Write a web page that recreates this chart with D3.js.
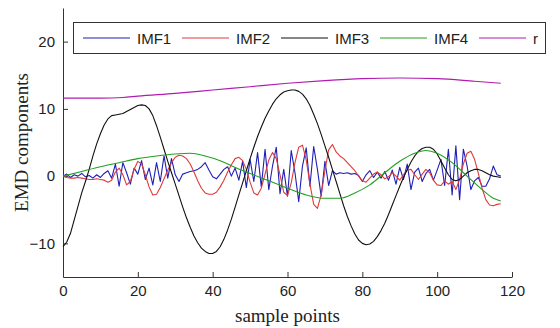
<!DOCTYPE html>
<html>
<head>
<meta charset="utf-8">
<script src="https://cdn.jsdelivr.net/npm/d3@7"></script>
<style>
  html, body { margin: 0; padding: 0; background: #fff; }
  svg { display: block; }
  .axis .tick text { font-family: "Liberation Sans", Arial, sans-serif; font-size: 15px; fill: #222; }
  .axis path, .axis line { stroke: #333; }
</style>
</head>
<body>
<div id="chart"></div>
<script>
// sample index of every point of the decomposition
const samplePoints = d3.range(0, 118);

// IMF1 - highest frequency component
const imf1 = [
  0.0, 0.3, -0.2, 0.2, 0.0, 0.4, -0.1, 0.1, -0.3, 0.2,
  -0.2, 0.4, 0.8, -0.3, 1.8, -1.5, 2.0, 0.5, -1.2, 1.2,
  0.3, 2.3, -0.5, 1.2, -1.3, 2.0, -0.8, 3.0, -0.3, 2.6,
  0.2, -0.8, 0.3, 0.5, 0.7, 0.8, 1.0, 1.4, 2.0, 0.9,
  -0.1, -0.4, 0.3, 1.0, 1.4, 0.0, 1.2, -0.6, 2.2, -1.7,
  2.5, -0.8, 3.5, -1.6, 4.0, -2.0, 1.5, 4.3, -2.6, 1.0,
  -3.0, 3.8, 0.5, -3.8, 1.5, 4.2, -1.5, 4.4, 1.0, -3.0,
  2.2, -1.4, 0.8, 0.3, 0.5, 0.4, 0.5, 0.3, 0.4, 0.1,
  -0.8, 0.2, 0.8, -0.2, 0.6, -0.3, 0.7, -0.6, 0.9, -1.2,
  1.3, -0.5, 1.8, -2.0, 0.6, 1.2, -0.8, 0.4, 1.0, -0.6,
  0.9, 2.5, -1.4, 4.0, -2.8, 4.5, -3.5, 4.0, 1.5, -2.0,
  -0.7, -0.2, -1.5, -1.5, -0.4, 1.5, 0.2, 0.0
];

// IMF2
const imf2 = [
  0.0, -0.2, -0.3, -0.3, -0.2, -0.3, -0.4, -0.5, -0.5, -0.4,
  -0.5, -0.6, -0.9, -0.6, 0.6, 1.2, 0.2, -1.3, -0.8, 1.0,
  2.2, 1.8, 0.2, -1.6, -2.8, -2.7, -1.7, -0.4, 0.9, 2.0,
  2.8, 3.1, 3.0, 2.6, 1.8, 0.6, -0.7, -1.8, -2.5, -2.7,
  -2.7, -2.4, -1.6, -0.6, 0.6, 1.7, 2.6, 2.8, 2.3, 1.0,
  -0.9, -2.5, -2.8, -1.8, 0.3, 2.4, 3.5, 2.6, 0.2, -2.4,
  -2.9, -1.0, 2.0, 4.3, 4.6, 2.4, -1.2, -4.2, -4.8, -2.8,
  0.8, 3.9, 4.7, 3.6, 3.0, 2.6, 2.0, 1.4, 0.8, 0.0,
  -0.7, -0.9, -0.3, 0.3, 0.6, 0.2, -0.4, -0.1, 0.5, 0.0,
  -0.6, 0.2, 0.9, 1.0, 0.2, -0.5, 0.3, 1.0, 0.5, -0.6,
  -1.3, -1.4, -0.7, -1.2, -0.8, -2.0, -0.5, 1.8, 3.4, 3.7,
  2.5, 0.4, -1.8, -3.5, -4.3, -4.4, -4.2, -4.1
];

// IMF3 - large slow oscillation
const imf3 = [
  -10.5, -9.8, -8.5, -6.5, -4.5, -2.5, -0.8, 1.0, 3.0, 4.8,
  6.3, 7.6, 8.5, 9.0, 9.1, 9.2, 9.3, 9.6, 9.9, 10.2,
  10.5, 10.6, 10.5, 10.0, 9.0, 7.5, 5.8, 4.0, 2.2, 0.5,
  -1.2, -2.9, -4.6, -6.2, -7.6, -8.9, -9.9, -10.7, -11.2, -11.5,
  -11.5, -11.2, -10.5, -9.4, -8.0, -6.4, -4.6, -2.8, -1.0, 0.8,
  2.6, 4.3, 5.9, 7.3, 8.6, 9.7, 10.7, 11.5, 12.1, 12.5,
  12.7, 12.8, 12.8, 12.6, 12.2, 11.5, 10.5, 9.2, 7.8, 6.2,
  4.5, 2.8, 1.0, -0.8, -2.6, -4.4, -6.0, -7.4, -8.6, -9.5,
  -10.0, -10.2, -10.1, -9.7, -9.0, -8.1, -7.0, -5.7, -4.3, -2.9,
  -1.5, -0.2, 1.0, 2.1, 3.0, 3.7, 4.1, 4.3, 4.3, 4.0,
  3.3, 2.3, 1.2, 0.2, -0.5, -0.7, -0.5, 0.0, 0.5, 0.8,
  1.0, 1.0, 0.8, 0.5, 0.2, 0.0, -0.1, -0.2
];

// IMF4 and residual r are smooth, read at a few samples: [sample, value]
const imf4 = [
  [0, 0.0], [5, 0.7], [10, 1.4], [15, 2.0], [20, 2.6], [25, 3.0], [30, 3.3],
  [34, 3.4], [38, 3.0], [42, 2.3], [46, 1.3], [50, 0.4], [55, -0.7], [60, -1.8],
  [65, -2.8], [70, -3.3], [74, -3.3], [78, -2.5], [82, -1.3], [86, 0.5],
  [90, 2.2], [94, 3.4], [97, 3.8], [100, 3.4], [104, 2.0], [108, 0.0],
  [112, -2.0], [115, -3.3], [117, -3.7]
];
const residual = [
  [0, 11.6], [10, 11.6], [16, 11.7], [20, 11.9], [30, 12.3], [40, 12.8],
  [50, 13.3], [60, 13.8], [70, 14.2], [80, 14.5], [90, 14.6], [100, 14.5],
  [110, 14.1], [117, 13.8]
];

const xTicks = [0, 20, 40, 60, 80, 100, 120];
const yTicks = [-10, 0, 10, 20];
const seriesNames = ["IMF1", "IMF2", "IMF3", "IMF4", "r"];
const seriesColors = ["#1f1fb4", "#e03a3a", "#111111", "#22a022", "#b01cb0"];

const width = 560, height = 328;
const margin = {top: 8, right: 48, bottom: 51, left: 63};

const svg = d3.select("#chart")
  .append("svg")
  .attr("width", width)
  .attr("height", height);

const x = d3.scaleLinear()
  .domain([0, 120])
  .range([margin.left, width - margin.right]);

const y = d3.scaleLinear()
  .domain([-15, 25])
  .range([height - margin.bottom, margin.top]);

// axes, ticks pointing inwards like matlab
svg.append("g")
  .attr("class", "axis")
  .attr("transform", "translate(0," + (height - margin.bottom) + ")")
  .call(d3.axisBottom(x).tickValues(xTicks).tickSizeInner(-5).tickSizeOuter(0).tickPadding(8));

svg.append("g")
  .attr("class", "axis")
  .attr("transform", "translate(" + margin.left + ",0)")
  .call(d3.axisLeft(y).tickValues(yTicks).tickSizeInner(-5).tickSizeOuter(0).tickPadding(8));

// series
const series = [
  samplePoints.map((s, i) => [s, imf1[i]]),
  samplePoints.map((s, i) => [s, imf2[i]]),
  samplePoints.map((s, i) => [s, imf3[i]]),
  imf4,
  residual
];

const line = d3.line()
  .x(d => x(d[0]))
  .y(d => y(d[1]));

const smoothLine = d3.line()
  .x(d => x(d[0]))
  .y(d => y(d[1]))
  .curve(d3.curveMonotoneX);

series.forEach((data, i) => {
  svg.append("path")
    .datum(data)
    .attr("fill", "none")
    .attr("stroke", seriesColors[i])
    .attr("stroke-width", 1.1)
    .attr("stroke-linejoin", "round")
    .attr("d", i < 3 ? line : smoothLine);
});

// legend
const legend = svg.append("g");
legend.append("rect")
  .attr("x", 73.5)
  .attr("y", 22.5)
  .attr("width", 472)
  .attr("height", 31)
  .attr("fill", "#fff")
  .attr("stroke", "#333");

seriesNames.forEach((name, i) => {
  const lx = 83 + i * 99;
  legend.append("line")
    .attr("x1", lx).attr("x2", lx + 47)
    .attr("y1", 38).attr("y2", 38)
    .attr("stroke", seriesColors[i])
    .attr("stroke-width", 1.1);
  legend.append("text")
    .attr("x", lx + 54)
    .attr("y", 43.5)
    .attr("font-family", "Liberation Sans, Arial, sans-serif")
    .attr("font-size", 15)
    .attr("fill", "#222")
    .text(name);
});

// axis titles
svg.append("text")
  .attr("x", x(60))
  .attr("y", 322)
  .attr("text-anchor", "middle")
  .attr("font-family", "Liberation Serif, Times New Roman, serif")
  .attr("font-size", 19)
  .attr("fill", "#222")
  .text("sample points");

svg.append("text")
  .attr("transform", "translate(28," + y(5) + ") rotate(-90)")
  .attr("text-anchor", "middle")
  .attr("font-family", "Liberation Serif, Times New Roman, serif")
  .attr("font-size", 19)
  .attr("fill", "#222")
  .text("EMD components");
</script>
</body>
</html>
